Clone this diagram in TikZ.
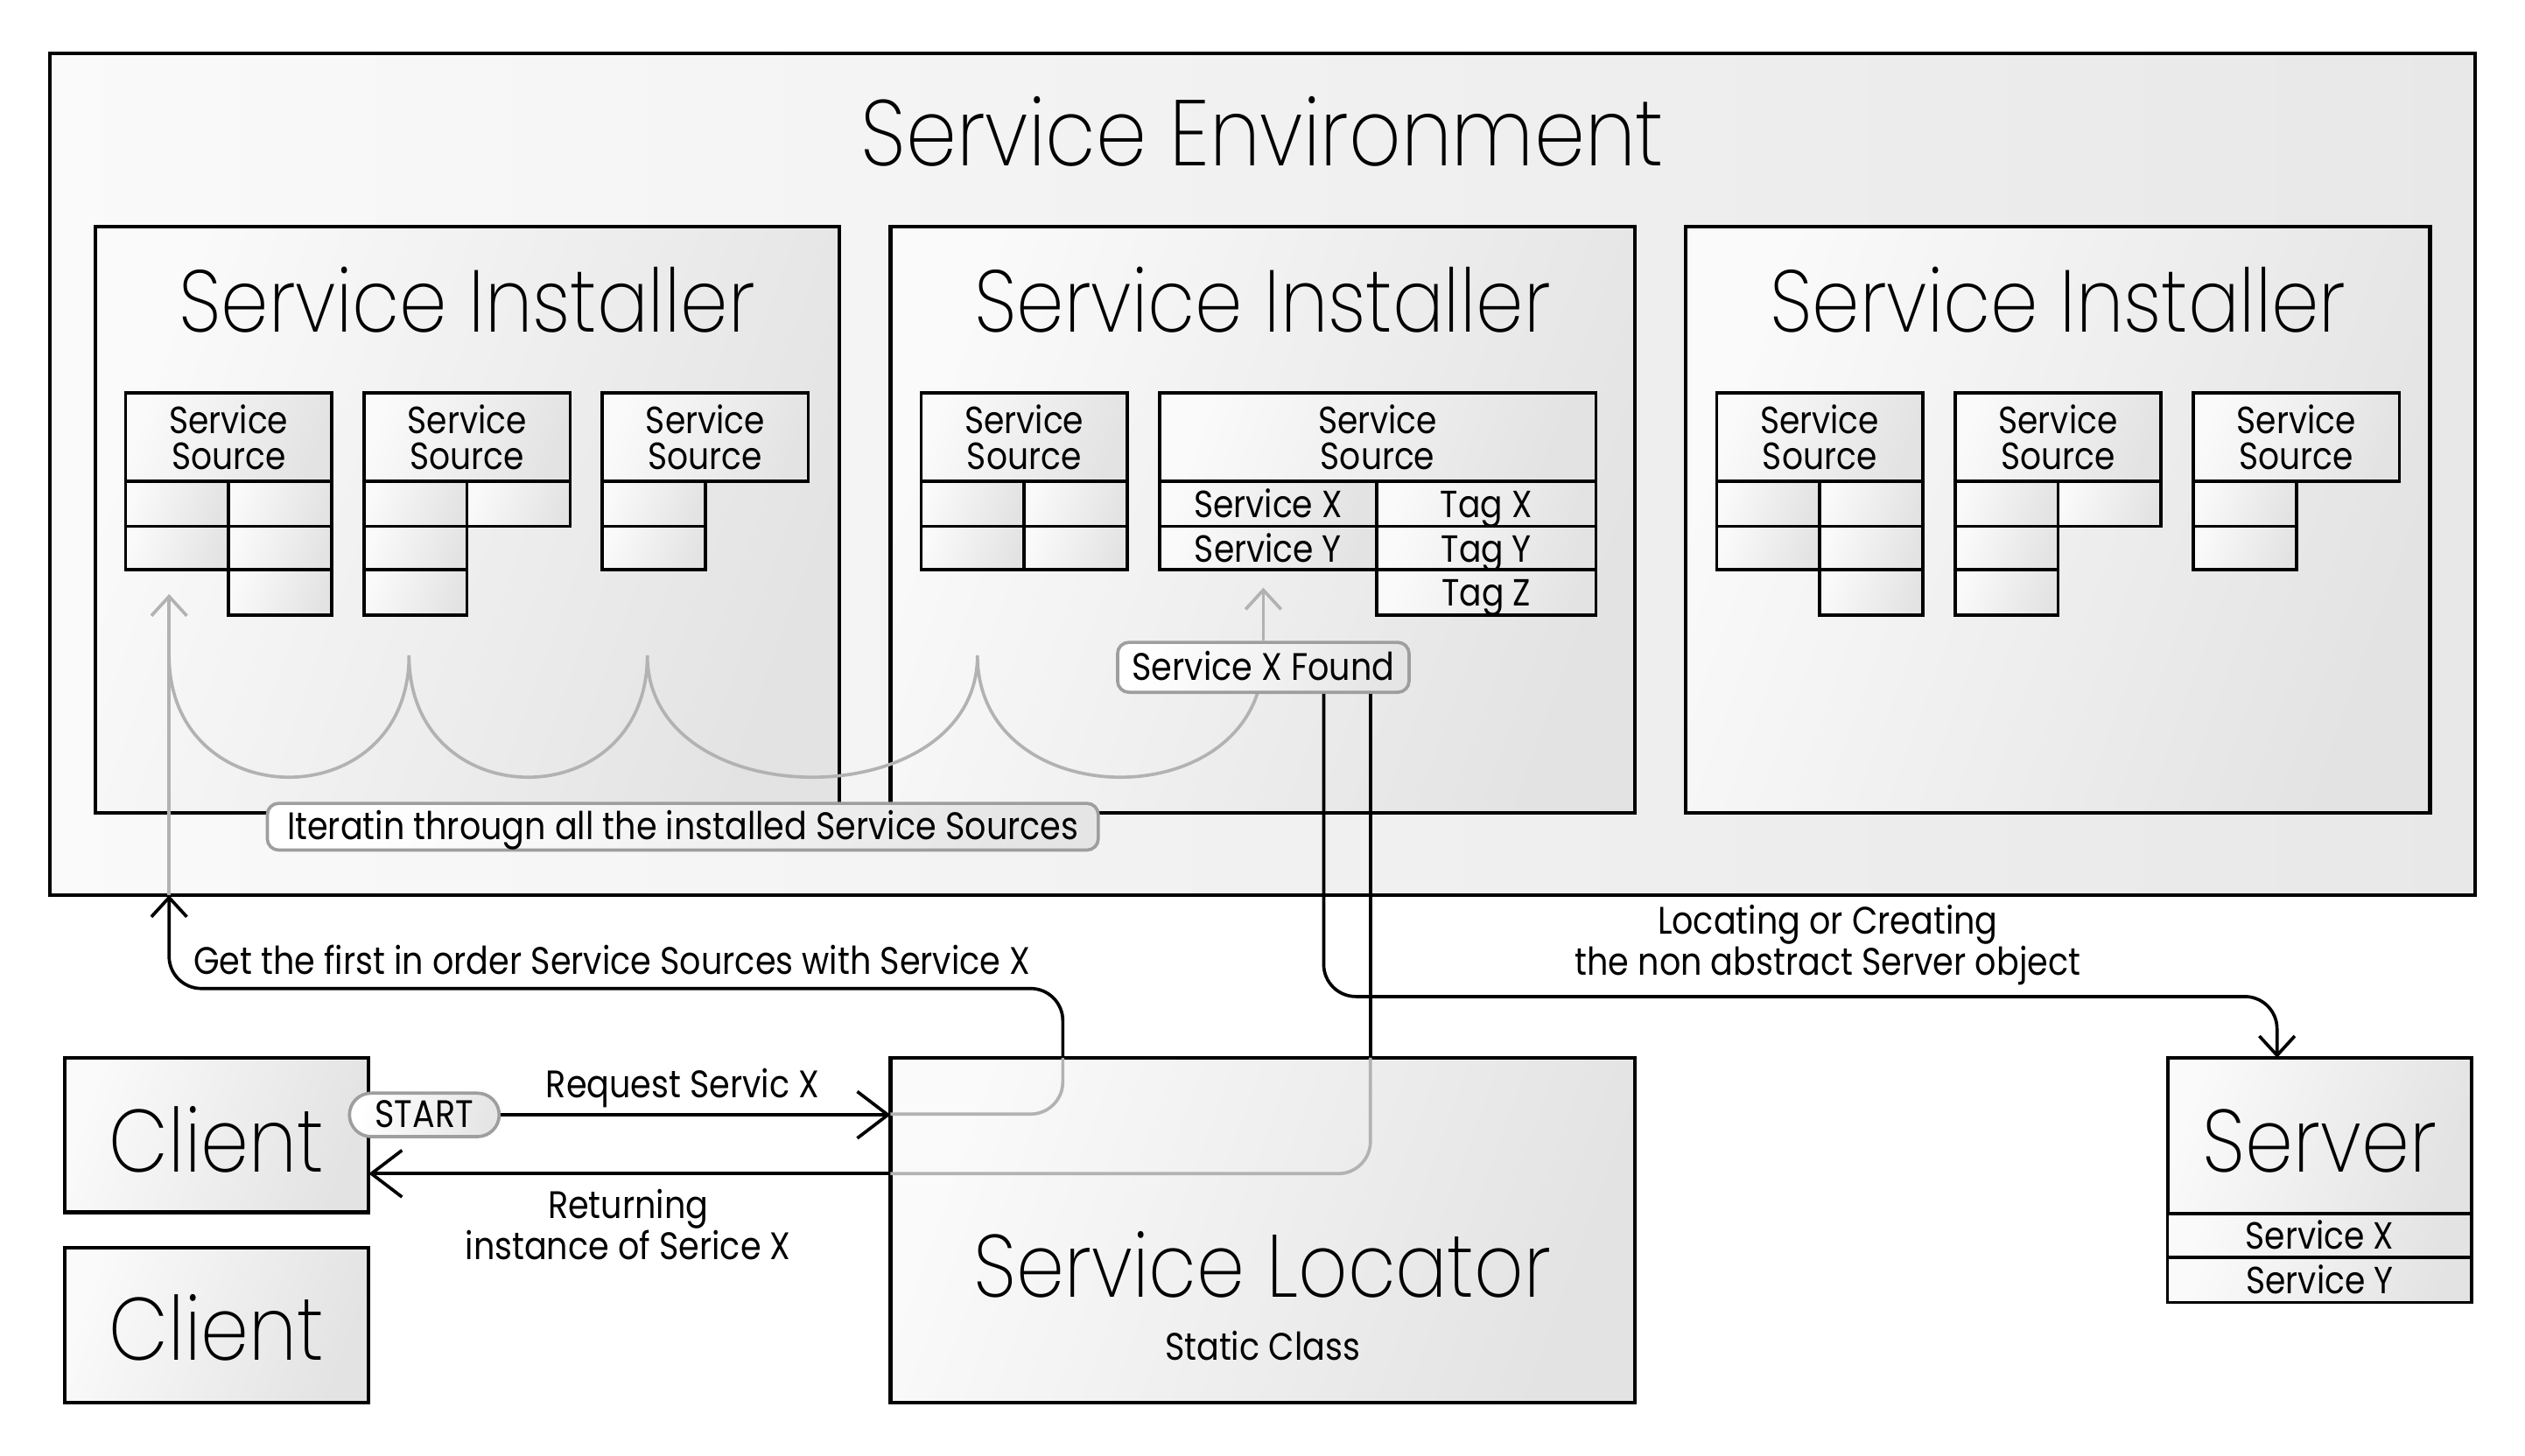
\documentclass[tikz,border=0pt]{standalone}
\usepackage{fontspec}
\setmainfont{Poppins}[FakeStretch=0.87]
\newfontfamily\lightf{Poppins}[UprightFont=* ExtraLight, FakeStretch=0.87]
\usetikzlibrary{arrows.meta}
\tikzset{
  bx/.style={draw=black, line width=2.2pt, left color=black!2, right color=black!11, shading angle=70, inner sep=0pt, outer sep=0pt},
  cellbox/.style={bx, line width=2pt},
  hdr/.style={cellbox, font=\fontsize{23.5}{22}\selectfont, align=center},
  rowbox/.style={cellbox, font=\fontsize{23.5}{22}\selectfont, text height=17pt, text depth=0pt},
  lbl/.style={font=\fontsize{23.8}{22}\selectfont, inner sep=0pt, align=center},
  ttl/.style={font=\lightf\fontsize{55}{55}\selectfont, inner sep=0pt, anchor=base},
  pill/.style={draw=black!38, line width=2pt, left color=white, right color=black!10, shading angle=70, rounded corners=7pt, inner sep=0pt, text height=16pt, text depth=0pt, font=\fontsize{23.8}{22}\selectfont},
  conn/.style={line width=2pt, draw=black},
  gconn/.style={line width=2pt, draw=black!30},
  sarr/.style={-{Straight Barb[length=12pt,width=22pt]}},
  barr/.style={-{Straight Barb[length=19pt,width=29pt]}},
}
\newcommand\mybox[6]{\node[#5, anchor=north west, minimum width={(#3)-(#1)}, minimum height={(#4)-(#2)}] (#6) at (#1,#2)}
\newcommand\instAcontent{%
  \mybox{78}{244}{206}{299}{hdr}{sa}{Service\\Source};
  \mybox{78}{299}{142}{327}{cellbox}{sa11}{};
  \mybox{142}{299}{206}{327}{cellbox}{sa12}{};
  \mybox{78}{327}{142}{354}{cellbox}{sa21}{};
  \mybox{142}{327}{206}{354}{cellbox}{sa22}{};
  \mybox{142}{354}{206}{382}{cellbox}{sa32}{};
  \mybox{226}{244}{354}{299}{hdr}{sb}{Service\\Source};
  \mybox{226}{299}{290}{327}{cellbox}{sb11}{};
  \mybox{290}{299}{354}{327}{cellbox}{sb12}{};
  \mybox{226}{327}{290}{354}{cellbox}{sb21}{};
  \mybox{226}{354}{290}{382}{cellbox}{sb31}{};
  \mybox{374}{244}{502}{299}{hdr}{sc}{Service\\Source};
  \mybox{374}{299}{438}{327}{cellbox}{sc11}{};
  \mybox{374}{327}{438}{354}{cellbox}{sc21}{};
}
\begin{document}
\begin{tikzpicture}[x=1pt, y=-1pt]
\useasboundingbox (0,0) rectangle (1568,904);
% environment
\mybox{31}{33}{1537}{556}{bx, line width=2.4pt, left color=black!2, right color=black!9}{env}{};
\node[ttl, font=\lightf\fontsize{58}{58}\selectfont] (envT) at (784,103) {Service Environment};
% installers
\mybox{59}{141}{521}{505}{bx}{inst1}{};
\mybox{553}{141}{1015}{505}{bx}{inst2}{};
\mybox{1047}{141}{1509}{505}{bx}{inst3}{};
\node[ttl, font=\lightf\fontsize{54.5}{54.5}\selectfont] (inst1T) at (290,206) {Service Installer};
\node[ttl, font=\lightf\fontsize{54.5}{54.5}\selectfont] (inst2T) at (784,206) {Service Installer};
\node[ttl, font=\lightf\fontsize{54.5}{54.5}\selectfont] (inst3T) at (1278,206) {Service Installer};
\begin{scope}[name prefix=i1-]\instAcontent\end{scope}
\begin{scope}[xshift=988pt, name prefix=i3-]\instAcontent\end{scope}
% installer 2 sources
\mybox{572}{244}{700}{299}{hdr}{i2-sa}{Service\\Source};
\mybox{572}{299}{636}{327}{cellbox}{i2-sa11}{};
\mybox{636}{299}{700}{327}{cellbox}{i2-sa12}{};
\mybox{572}{327}{636}{354}{cellbox}{i2-sa21}{};
\mybox{636}{327}{700}{354}{cellbox}{i2-sa22}{};
\mybox{720}{244}{991}{299}{hdr}{i2-sb}{Service\\Source};
\mybox{720}{299}{855}{327}{rowbox}{svx}{Service X};
\mybox{855}{299}{991}{327}{rowbox}{tgx}{Tag X};
\mybox{720}{327}{855}{354}{rowbox}{svy}{Service Y};
\mybox{855}{327}{991}{354}{rowbox}{tgy}{Tag Y};
\mybox{855}{354}{991}{382}{rowbox}{tgz}{Tag Z};
% iteration scallops
\coordinate (c0) at (105,407);
\coordinate (c1) at (254,407);
\coordinate (c2) at (402,407);
\coordinate (c3) at (607,407);
\coordinate (c4) at (784.5,407);
\draw[gconn] (c0) .. controls (105,508) and (254,508) .. (c1)
  .. controls (254,508) and (402,508) .. (c2)
  .. controls (402,508) and (607,508) .. (c3)
  .. controls (607,508) and (784.5,508) .. (c4);
\node[pill, minimum width=181pt, minimum height=31pt] (found) at (784.5,414.5) {Service X Found};
\coordinate (ftip) at (784.5,365);
\draw[gconn, sarr] (found.north) -- (ftip);
\node[pill, minimum width=516pt, minimum height=29pt] (iter) at (424,513.5) {Iteratin througn all the installed Service Sources};
% bottom boxes
\mybox{40}{657}{229}{753}{bx}{cl1}{};
\mybox{40}{775}{229}{871}{bx}{cl2}{};
\node[ttl] (cl1T) at (134.5,728) {Client};
\node[ttl] (cl2T) at (134.5,845) {Client};
\mybox{553}{657}{1015}{871}{bx}{loc}{};
\node[ttl] (locT) at (784,806) {Service Locator};
\node[lbl, anchor=base] (locS) at (784,845) {Static Class};
\mybox{1346}{657}{1535}{754}{bx}{srv}{};
\node[ttl] (srvT) at (1440.5,728) {Server};
\mybox{1346}{754}{1535}{781}{rowbox}{srvx}{Service X};
\mybox{1346}{781}{1535}{809}{rowbox}{srvy}{Service Y};
% get first connector
\coordinate (g1) at (660,692);
\coordinate (g2) at (660,614);
\coordinate (g3) at (105,614);
\coordinate (gtip) at (105,369);
\draw[gconn, rounded corners=20pt] (loc.west |- g1) -- (g1) -- (loc.north -| g1);
\draw[conn, sarr, rounded corners=20pt] (loc.north -| g1) -- (g2) -- (g3) -- (env.south -| g3);
\draw[gconn, sarr] (env.south -| g3) -- (gtip);
% returning connector
\coordinate (rx) at (851,729);
\draw[conn] (found.south -| rx) -- (loc.north -| rx);
\draw[gconn, rounded corners=20pt] (loc.north -| rx) -- (rx) -- (loc.west |- rx);
\draw[conn, barr] (loc.west |- rx) -- (cl1.east |- rx);
% locating connector
\coordinate (lx) at (822,619);
\coordinate (ly) at (1414,619);
\draw[conn, sarr, rounded corners=20pt] (found.south -| lx) -- (lx) -- (ly) -- (srv.north -| ly);
% request connector
\node[pill, rounded corners=13.5pt, minimum width=93pt, minimum height=27pt] (start) at (263.5,692.5) {START};
\draw[conn, barr] (start.east) -- (loc.west |- start.east);
% labels
\node[lbl, anchor=base] (getL) at (380,605) {Get the first in order Service Sources with Service X};
\node[lbl, anchor=base] (reqL) at (424,682) {Request Servic X};
\node[lbl] (retL) at (390,760.5) {Returning\\instance of Serice X};
\node[lbl] (locL) at (1135,587) {Locating or Creating\\the non abstract Server object};
\end{tikzpicture}
\end{document}
